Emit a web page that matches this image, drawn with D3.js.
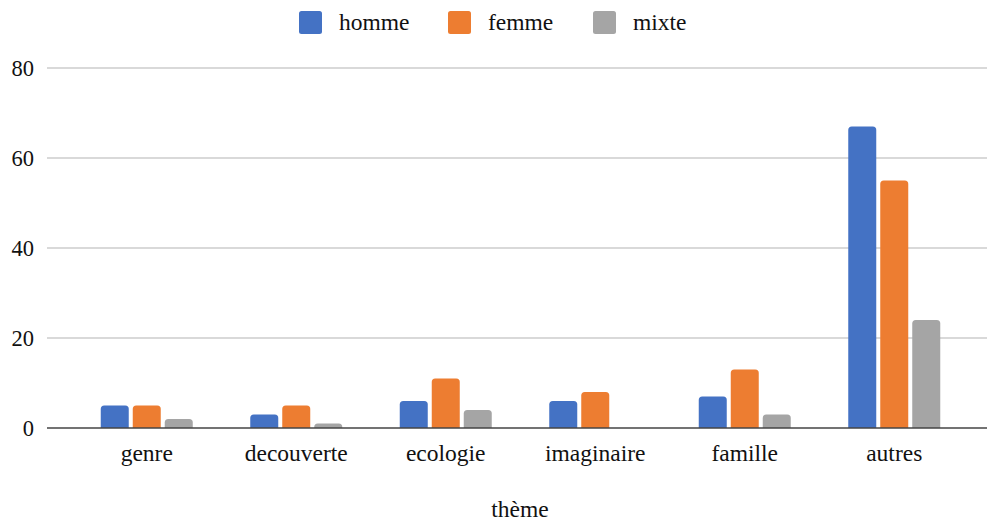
<!DOCTYPE html>
<html>
<head>
<meta charset="utf-8">
<script src="https://d3js.org/d3.v7.min.js"></script>
<style>
  body { margin: 0; background: #fff; }
  text { font-family: "Liberation Serif", "Times New Roman", serif; fill: #111; }
</style>
</head>
<body>
<svg id="chart" width="987" height="522"></svg>
<script>
    // data
    const categories = ["genre", "decouverte", "ecologie", "imaginaire", "famille", "autres"];
    const seriesNames = ["homme", "femme", "mixte"];
    const homme = [5, 3, 6, 6, 7, 67];
    const femme = [5, 5, 11, 8, 13, 55];
    const mixte = [2, 1, 4, 0, 3, 24];
    const yTicks = [0, 20, 40, 60, 80];
    const colors = ["#4472c4", "#ed7d31", "#a5a5a5"];

    const values = [homme, femme, mixte];
    const rows = categories.map((c, i) => ({
        cat: c,
        vals: seriesNames.map((s, j) => ({ key: s, value: values[j][i], idx: j }))
    }));

    const svg = d3.select("#chart");
    const gridLeft = 47, gridRight = 987;

    const x = d3.scaleBand().domain(categories).range([72, 969]).paddingInner(0).paddingOuter(0);
    const xInner = d3.scaleBand().domain(seriesNames).range([0, 92]).paddingInner(0.125);
    const y = d3.scaleLinear().domain([0, 80]).range([428, 68]);

    // grid lines
    svg.append("g")
        .selectAll("line")
        .data(yTicks.filter(d => d !== 0))
        .join("line")
        .attr("x1", gridLeft).attr("x2", gridRight)
        .attr("y1", d => y(d)).attr("y2", d => y(d))
        .attr("stroke", "#cccccc")
        .attr("stroke-width", 1.3);

    // y tick labels
    svg.append("g")
        .selectAll("text")
        .data(yTicks)
        .join("text")
        .attr("x", 34)
        .attr("y", d => y(d))
        .attr("dy", "0.35em")
        .attr("text-anchor", "end")
        .style("font-size", "22.5px")
        .text(d => d);

    // bars, rounded on top only
    function barPath(x0, w, yTop, yBase, r) {
        const h = yBase - yTop;
        if (h <= 0) return "";
        r = Math.min(r, h, w / 2);
        return `M${x0},${yBase}V${yTop + r}Q${x0},${yTop} ${x0 + r},${yTop}` +
               `H${x0 + w - r}Q${x0 + w},${yTop} ${x0 + w},${yTop + r}V${yBase}Z`;
    }

    const groups = svg.append("g")
        .selectAll("g")
        .data(rows)
        .join("g")
        .attr("transform", d => `translate(${x(d.cat) + (x.bandwidth() - 92) / 2},0)`);

    groups.selectAll("path")
        .data(d => d.vals)
        .join("path")
        .attr("d", d => barPath(xInner(d.key), xInner.bandwidth(), y(d.value), y(0), 3.5))
        .attr("fill", d => colors[d.idx]);

    // baseline
    svg.append("line")
        .attr("x1", gridLeft).attr("x2", gridRight)
        .attr("y1", y(0)).attr("y2", y(0))
        .attr("stroke", "#444")
        .attr("stroke-width", 1.6);

    // x axis labels
    svg.append("g")
        .selectAll("text")
        .data(categories)
        .join("text")
        .attr("x", d => x(d) + x.bandwidth() / 2)
        .attr("y", 461)
        .attr("text-anchor", "middle")
        .style("font-size", "23.5px")
        .text(d => d);

    // axis title
    svg.append("text")
        .attr("x", 520)
        .attr("y", 517)
        .attr("text-anchor", "middle")
        .style("font-size", "23.5px")
        .text("thème");

    // legend
    const legendX = [299, 448, 593];
    const legend = svg.append("g")
        .selectAll("g")
        .data(seriesNames)
        .join("g")
        .attr("transform", (d, i) => `translate(${legendX[i]},11)`);
    legend.append("rect")
        .attr("width", 23).attr("height", 23)
        .attr("rx", 2.5)
        .attr("fill", (d, i) => colors[i]);
    legend.append("text")
        .attr("x", 40)
        .attr("y", 19)
        .style("font-size", "23.5px")
        .text(d => d);
</script>
</body>
</html>
